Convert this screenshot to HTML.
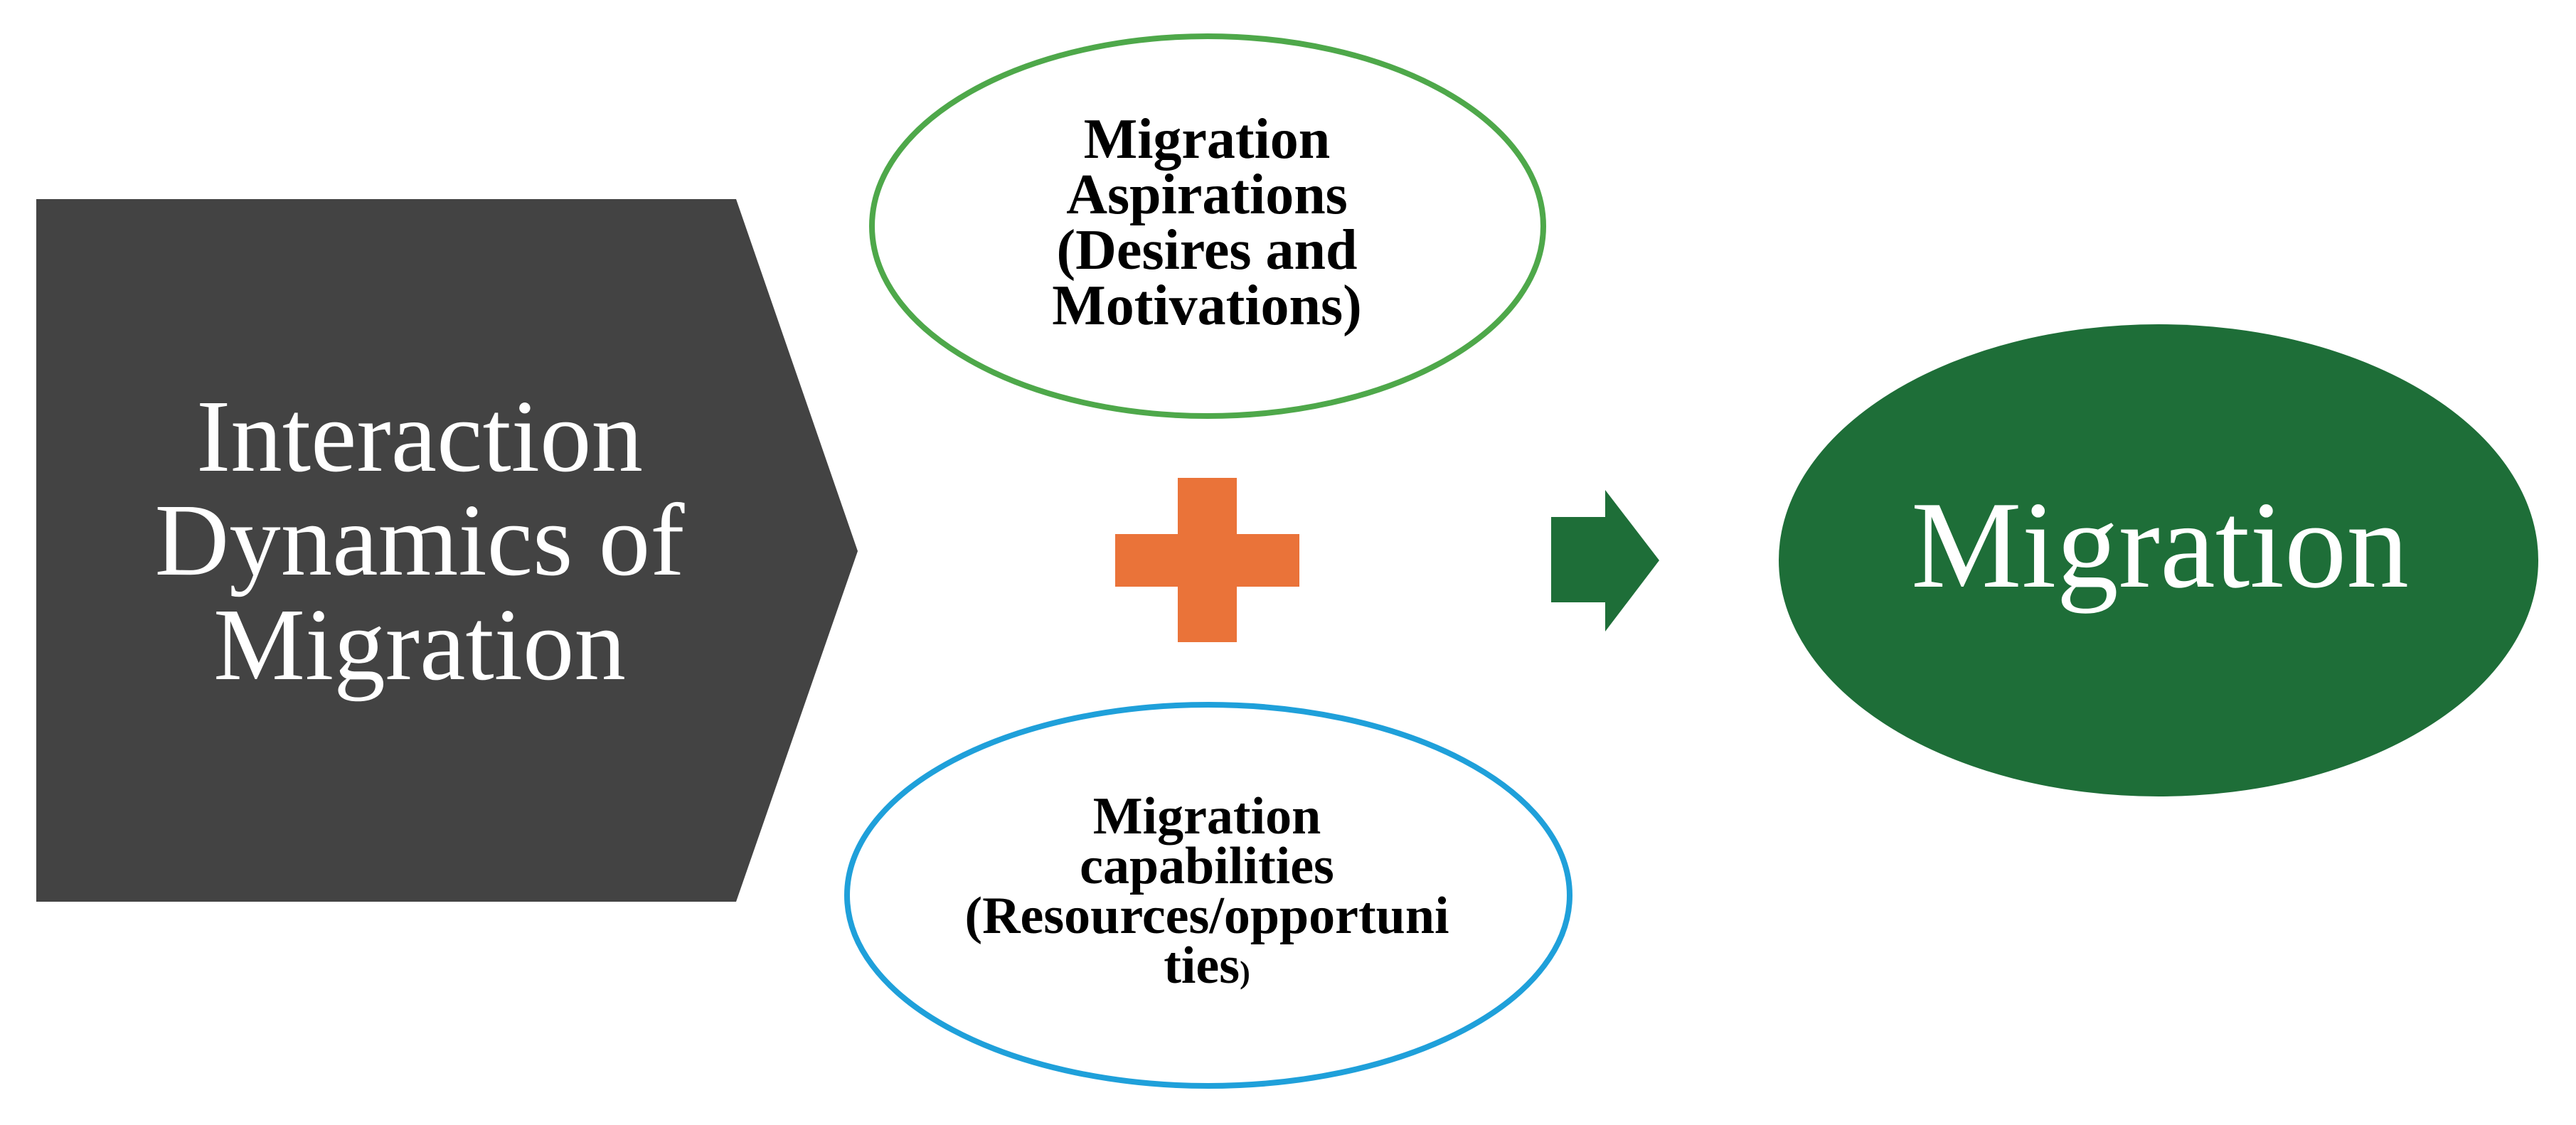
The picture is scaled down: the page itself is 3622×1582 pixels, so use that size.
<!DOCTYPE html>
<html><head><meta charset="utf-8"><style>
html,body{margin:0;padding:0;background:#fff;}
svg{display:block;}
</style></head><body>
<svg width="3622" height="1582" viewBox="0 0 3622 1582" xmlns="http://www.w3.org/2000/svg">
<rect width="3622" height="1582" fill="#fff"/>
<polygon points="51,280 1035,280 1206,775 1035,1268 51,1268" fill="#434343"/>
<g font-family="'Liberation Serif', serif" fill="#fff" font-size="145" text-anchor="middle">
<text x="590" y="662">Interaction</text>
<text x="590" y="808">Dynamics of</text>
<text x="590" y="955">Migration</text>
</g>
<ellipse cx="1698" cy="318" rx="472" ry="267" fill="#fff" stroke="#4ea84a" stroke-width="8"/>
<g font-family="'Liberation Serif', serif" font-weight="bold" fill="#000" font-size="80" text-anchor="middle">
<text x="1697" y="222">Migration</text>
<text x="1697" y="300">Aspirations</text>
<text x="1697" y="378">(Desires and</text>
<text x="1697" y="456">Motivations)</text>
</g>
<ellipse cx="1699" cy="1259" rx="508" ry="268" fill="#fff" stroke="#1fa0da" stroke-width="8"/>
<g font-family="'Liberation Serif', serif" font-weight="bold" fill="#000" font-size="74" text-anchor="middle">
<text x="1697" y="1172">Migration</text>
<text x="1697" y="1242">capabilities</text>
<text x="1697" y="1312">(Resources/opportuni</text>
<text x="1697" y="1382">ties<tspan font-size="44">)</tspan></text>
</g>
<rect x="1656" y="672" width="83" height="231" fill="#ea7339"/>
<rect x="1568" y="751" width="259" height="74" fill="#ea7339"/>
<polygon points="2181,727 2257,727 2257,689 2333,788 2257,888 2257,847 2181,847" fill="#1e6e38"/>
<ellipse cx="3035" cy="788" rx="534" ry="332" fill="#1e6e38"/>
<text x="3037" y="825" font-family="'Liberation Serif', serif" fill="#fff" font-size="175" text-anchor="middle">Migration</text>
</svg>
</body></html>
